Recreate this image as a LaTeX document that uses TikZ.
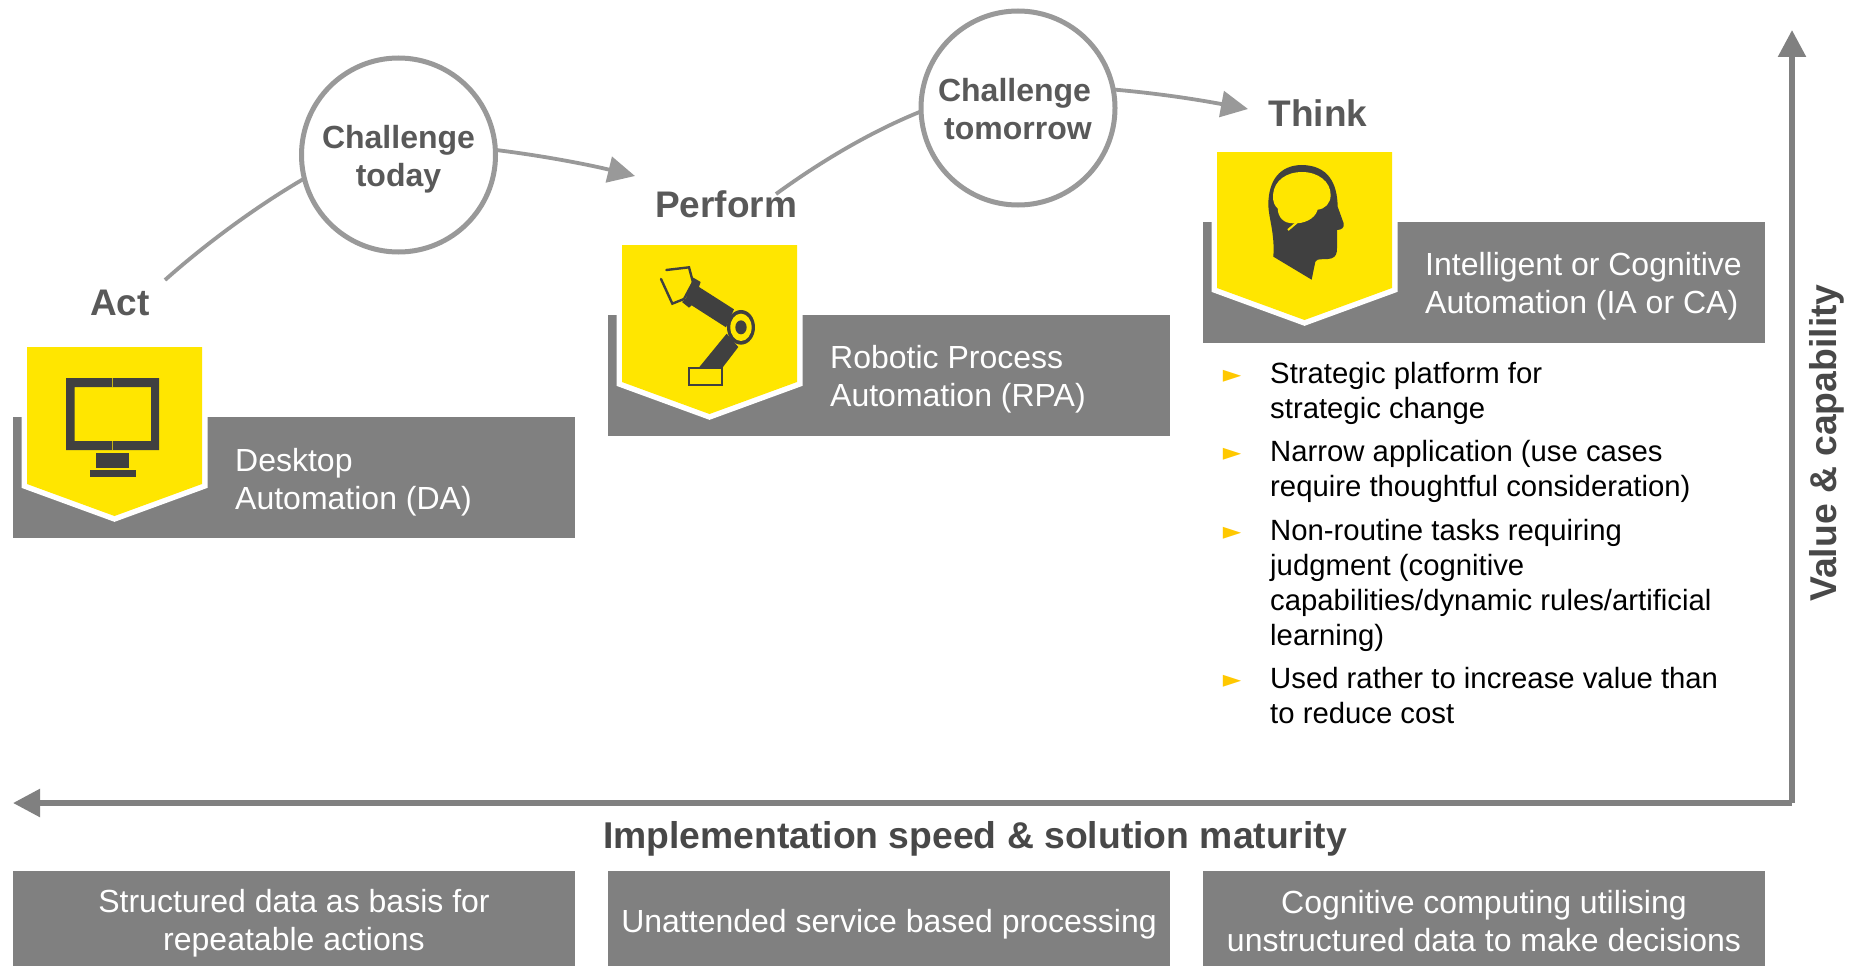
\documentclass[tikz,border=0pt]{standalone}
\usepackage{fontspec}
\setmainfont{Liberation Sans}
\newfontfamily\symfont{DejaVu Sans}
\usetikzlibrary{arrows.meta}
\definecolor{boxgrey}{HTML}{808080}
\definecolor{ringgrey}{HTML}{999999}
\definecolor{titlegrey}{HTML}{595959}
\definecolor{axisgrey}{HTML}{484848}
\definecolor{eyyellow}{HTML}{FFE600}
\definecolor{bulletyellow}{HTML}{FFC800}
\definecolor{icondark}{HTML}{404040}
\newcommand{\fs}[2]{\fontsize{#1pt}{#2pt}\selectfont}
\newcommand{\badgeshape}[3]{% left x, top y, side-bottom y
  \path[draw=white,line width=11pt,miter limit=10,line join=miter]
    (#1,#2) -- (#1,#3) -- ({#1+87.5},{#3+32}) -- ({#1+175},#3) -- ({#1+175},#2);
  \fill[eyyellow] (#1,#2) -- (#1,#3) -- ({#1+87.5},{#3+32}) -- ({#1+175},#3) -- ({#1+175},#2) -- cycle;
}
\tikzset{
  greybox/.style={fill=boxgrey,draw=none,minimum width=562pt,minimum height=121pt,inner sep=0pt,outer sep=0pt,anchor=north west},
  footbox/.style={fill=boxgrey,draw=none,minimum width=562pt,minimum height=95pt,inner sep=0pt,outer sep=0pt,anchor=north west},
  boxlabel/.style={text=white,font=\fs{32}{38},align=left,anchor=west,inner sep=0pt},
  footlabel/.style={text=white,font=\fs{32}{38},align=center,inner sep=0pt},
  steptitle/.style={text=titlegrey,font=\bfseries\fs{37}{44},inner sep=0pt},
  ring/.style={circle,draw=ringgrey,line width=5pt,fill=white,minimum size=194pt,inner sep=0pt,outer sep=0pt},
  ringtext/.style={text=titlegrey,font=\bfseries\fs{32}{38},align=center,inner sep=0pt},
  flow/.style={draw=ringgrey,line width=3.8pt,-{Triangle[length=27pt,width=26pt]}},
  flowplain/.style={draw=ringgrey,line width=3.8pt},
  axis/.style={draw=boxgrey,line width=5.5pt,-{Triangle[length=27pt,width=27pt]}},
  bullettext/.style={text=black,font=\fs{29.3}{35},align=left,anchor=north west,inner sep=0pt},
  bulletmark/.style={text=bulletyellow,font=\symfont\fs{24}{26},inner sep=0pt},
  axislabel/.style={text=axisgrey,font=\bfseries\fs{37.3}{44},inner sep=0pt},
}
\begin{document}
\begin{tikzpicture}[x=1pt,y=-1pt]
\useasboundingbox (0,0) rectangle (1865,966);
\fill[white] (0,0) rectangle (1865,966);

% grey boxes
\node[greybox] (b1) at (13,417) {};
\node[greybox] (b2) at (608,315) {};
\node[greybox] (b3) at (1203,222) {};
\node[footbox] (f1) at (13,871) {};
\node[footbox] (f2) at (608,871) {};
\node[footbox] (f3) at (1203,871) {};

% badges
\badgeshape{27}{347}{484}
\badgeshape{622}{245}{382}
\badgeshape{1217}{152}{288}

% monitor icon
\fill[icondark,even odd rule] (66,378) rectangle (159,450) (74.5,387) rectangle (151,441);
\draw[eyyellow!70!icondark,line width=0.8pt] (112.5,378) -- (112.5,387) (112.5,441) -- (112.5,450);
\fill[icondark] (96,453) rectangle (128.5,467.5);
\fill[icondark] (89.5,470) rectangle (135.5,477);

% robot icon
\begin{scope}[shift={(600,230)},x=0.3333pt,y=-0.3333pt]
  \draw[icondark,line width=2.4pt,line join=miter,line cap=round]
    (199,120) -- (267,112) -- (279,157) -- (252,207) -- (217,221) -- (183,147);
  \fill[icondark] (280,143) -- (302,156) -- (297,171) -- (402,238) -- (378,292) -- (275,226) -- (267,233) -- (246,216) -- (258,205) -- cycle;
  \fill[icondark] (380,311) -- (415,351) -- (366,415) -- (295,415) -- cycle;
  \fill[icondark] (423,292) ellipse [x radius=42,y radius=52];
  \fill[eyyellow] (423,292) ellipse [x radius=32,y radius=41];
  \fill[icondark] (423,292) ellipse [x radius=17,y radius=21];
  \draw[icondark,line width=2.3pt] (267,415) rectangle (367,466);
\end{scope}

% head icon
\begin{scope}[shift={(1200,140)},x=0.3333pt,y=-0.3333pt]
  \fill[icondark] (220,350) -- (335,419) -- (346,365)
    .. controls (352,352) and (375,362) .. (395,355)
    .. controls (408,350) and (411,340) .. (411,325)
    -- (411,270) .. controls (425,270) and (434,262) .. (431,250)
    -- (413,200) .. controls (412,130) and (385,76) .. (305,75)
    .. controls (240,76) and (205,120) .. (205,195)
    .. controls (205,230) and (225,280) .. (220,350) -- cycle;
  \fill[eyyellow] (219,165) .. controls (222,120) and (262,96) .. (305,96)
    .. controls (355,96) and (392,125) .. (392,165)
    .. controls (392,190) and (375,207) .. (353,209)
    .. controls (345,238) and (310,252) .. (280,250)
    .. controls (250,250) and (234,232) .. (233,205)
    .. controls (224,198) and (218,185) .. (219,165) -- cycle;
  \draw[eyyellow,line width=2pt] (264,270) -- (290,248);
\end{scope}

% box labels
\node[boxlabel] (t1) at (235,482.5) {Desktop\\Automation (DA)};
\node[boxlabel] (t2) at (830,379) {Robotic Process\\Automation (RPA)};
\node[boxlabel] (t3) at (1425,286.5) {Intelligent or Cognitive\\Automation (IA or CA)};

% foot labels
\node[footlabel] (l1) at (294,923.5) {Structured data as basis for\\repeatable actions};
\node[footlabel] (l2) at (889,924) {Unattended service based processing};
\node[footlabel] (l3) at (1484,921) {Cognitive computing utilising\\unstructured data to make decisions};

% step titles
\node[steptitle] (act) at (120,303) {Act};
\node[steptitle] (perform) at (726,204) {Perform};
\node[steptitle] (think) at (1318,113) {Think};

% rings
\node[ring] (c1) at (398.5,155) {};
\node[ringtext] (c1t) at (398.5,159.5) {Challenge\\today};
\node[ring] (c2) at (1018,108) {};
\node[ringtext] (c2t) at (1018,109) {Challenge\hspace*{7pt}\\tomorrow};

% connectors
\coordinate (s1) at (165,280);
\coordinate (e1) at (635,176);
\coordinate (s2) at (776,194);
\coordinate (e2) at (1248,109);
\draw[flowplain] (s1) .. controls (210,240) and (262,203) .. (c1.194);
\draw[flow] (c1.3) .. controls (545,156) and (590,165) .. (e1);
\draw[flowplain] (s2) .. controls (820,162) and (870,132) .. (c2.182);
\draw[flow] (c2.11) .. controls (1165,94) and (1205,101) .. (e2);

% bullets
\foreach \yy in {376,454,533,681}{
  \node[bulletmark] at (1232,\yy) {►};
}
\node[bullettext] (p1) at (1270,362) {Strategic platform for\\strategic change};
\node[bullettext] (p2) at (1270,440) {Narrow application (use cases\\require thoughtful consideration)};
\node[bullettext] (p3) at (1270,519) {Non-routine tasks requiring\\judgment (cognitive\\capabilities/dynamic rules/artificial\\learning)};
\node[bullettext] (p4) at (1270,667) {Used rather to increase value than\\to reduce cost};

% axes
\coordinate (origin) at (1792,803);
\coordinate (axtop) at (1792,30);
\coordinate (axleft) at (13,803);
\draw[axis] (origin) -- (axtop);
\draw[axis] (origin) -- (axleft);
\node[axislabel] (xl) at (975,838.5) {Implementation speed \& solution maturity};
\node[axislabel,rotate=90] (yl) at (1827,443) {Value \& capability};
\end{tikzpicture}
\end{document}
